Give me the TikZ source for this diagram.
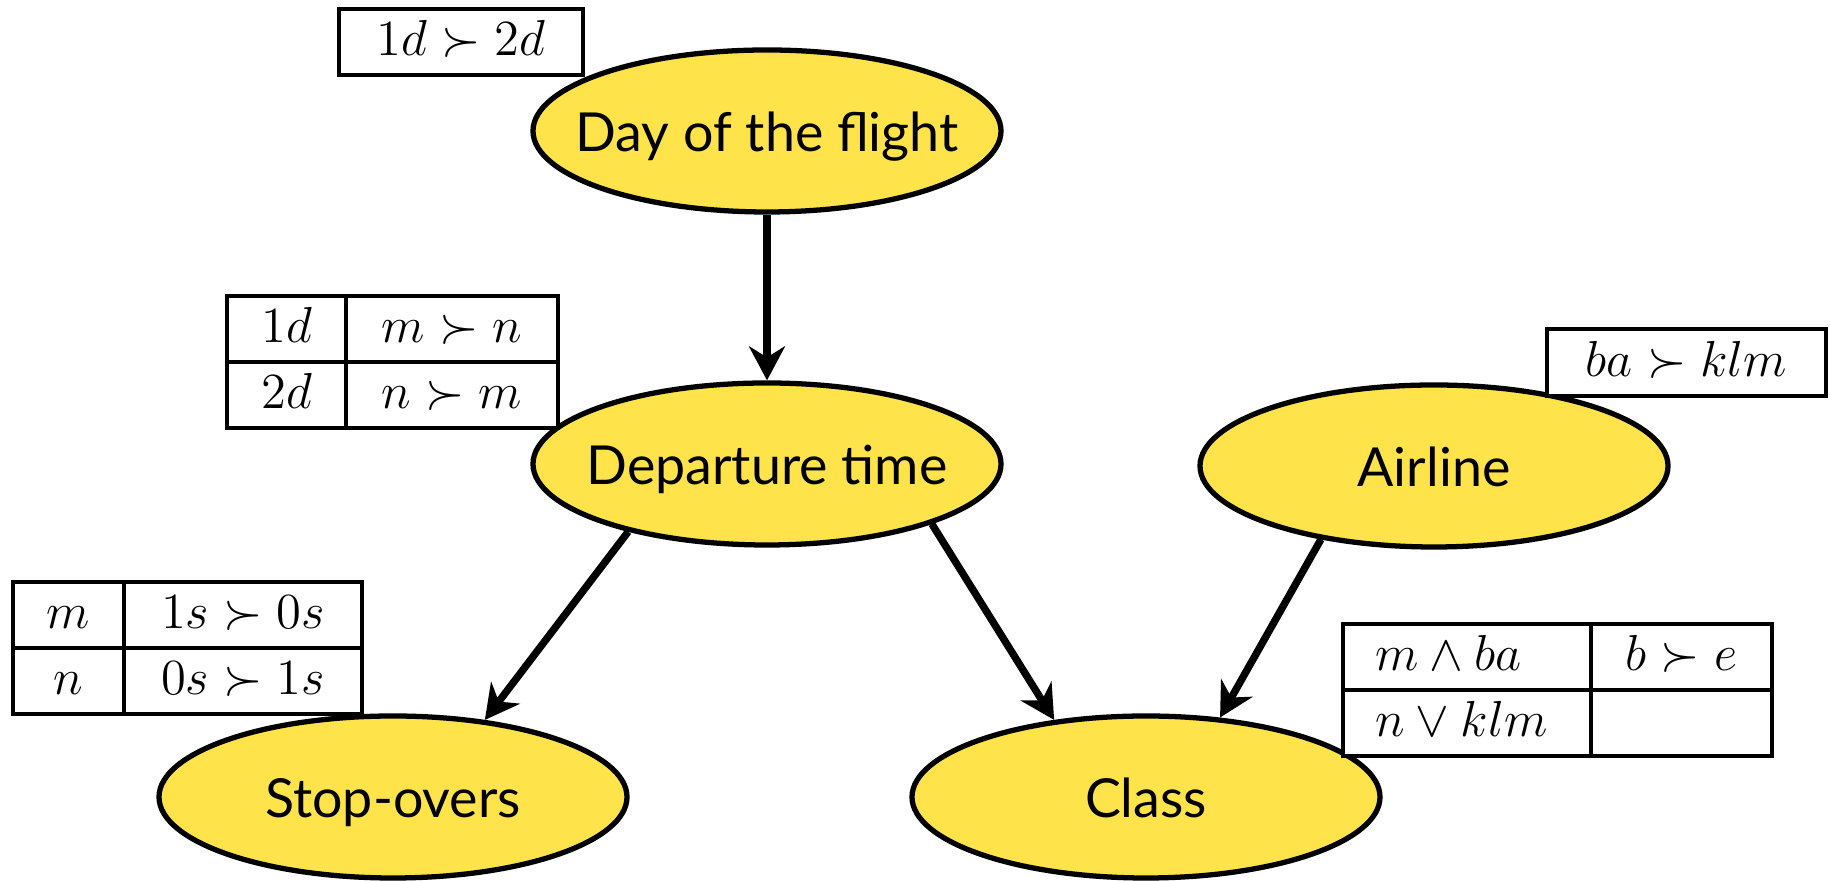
\documentclass[tikz,border=0pt]{standalone}
\usepackage[no-math]{fontspec}
\setmainfont{Lato}
\usepackage{amssymb}
\usepackage{xcolor}
\usetikzlibrary{shapes.geometric,arrows.meta,matrix}
\definecolor{varyellow}{HTML}{FFE34B}
\newcommand{\vname}[1]{\makebox[0pt]{#1}}
\tikzstyle{var}=[ellipse, draw, line width=1.5pt, fill=varyellow, minimum width=4.68cm, minimum height=1.62cm, inner sep=0pt, text height=11.5pt, text depth=0pt, font=\fontsize{15.3}{18}\selectfont]
\tikzstyle{pref}=[draw, fill=white, line width=0.9pt, inner sep=0pt, text height=0.38cm, text depth=0.1cm, font=\fontsize{14.4}{17}\selectfont]
\tikzstyle{cpt}=[matrix of math nodes, column sep=-0.9pt, row sep=-0.9pt, nodes={pref, minimum height=0.66cm}]
\tikzstyle{link}=[-{Stealth[length=3.4mm,width=3.6mm,inset=1.1mm]}, line width=2.1pt]

\begin{document}
\begin{tikzpicture}
\useasboundingbox (0,0) rectangle (18.3,8.81);

% variables
\node[var] (day) at (7.67,7.50) {\vname{Day of the flight}};
\node[var] (dep) at (7.67,4.17) {\vname{Departure time}};
\node[var] (air) at (14.34,4.15) {\vname{Airline}};
\node[var] (stop) at (3.93,0.84) {\vname{Stop-overs}};
\node[var] (cls) at (11.46,0.84) {\vname{Class}};

\foreach \from/\to in {day.south/dep.north, dep.206/stop.40, dep.340/cls.140, air.213/cls.47}
  \draw[link] (\from) -- (\to);

% preference tables
\node[pref, minimum width=2.44cm, minimum height=0.66cm] (pday) at (4.61,8.39) {$1d \succ 2d$};
\node[pref, minimum width=2.79cm, minimum height=0.67cm] (pair) at (16.865,5.185) {$ba \succ klm$};

\matrix[cpt, column 1/.style={nodes={minimum width=1.19cm}}, column 2/.style={nodes={minimum width=2.12cm}}] (pdep) at (3.925,5.19) {
  1d & m \succ n \\
  2d & n \succ m \\
};

\matrix[cpt, column 1/.style={nodes={minimum width=1.11cm}}, column 2/.style={nodes={minimum width=2.38cm}}] (pstop) at (1.875,2.33) {
  m & 1s \succ 0s \\
  n & 0s \succ 1s \\
};

\matrix[cpt, column 1/.style={nodes={minimum width=2.48cm, text width=1.84cm, align=left}}, column 2/.style={nodes={minimum width=1.81cm}}] (pcls) at (15.575,1.91) {
  m \wedge ba & b \succ e \\
  n \vee klm & {} \\
};

\end{tikzpicture}
\end{document}
